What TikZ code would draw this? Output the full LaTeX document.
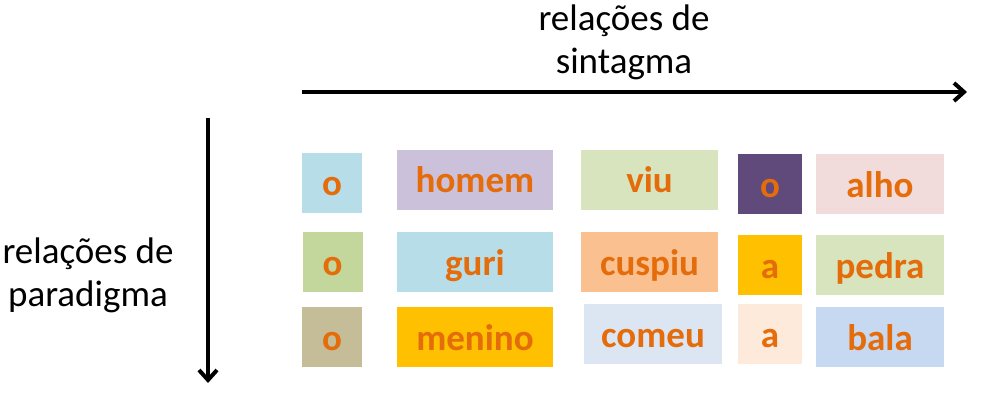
\documentclass[tikz,border=0pt]{standalone}
\usepackage{fontspec}
\setmainfont{Carlito}
\usetikzlibrary{arrows.meta}
\definecolor{wordtext}{HTML}{E46C0A}
\definecolor{aqua}{HTML}{B7DEE8}
\definecolor{lilac}{HTML}{CCC1DA}
\definecolor{olivelight}{HTML}{D7E4BD}
\definecolor{olivemid}{HTML}{C3D69B}
\definecolor{apricot}{HTML}{FAC090}
\definecolor{tan}{HTML}{C4BD97}
\definecolor{gold}{HTML}{FFC000}
\definecolor{iceblue}{HTML}{DCE6F2}
\definecolor{plum}{HTML}{604A7B}
\definecolor{rose}{HTML}{F2DCDB}
\definecolor{peach}{HTML}{FDEADA}
\definecolor{skyblue}{HTML}{C6D9F1}
\tikzset{Paradigm/.style = {% boxes and axes of the picture
     word/.style = {rectangle, inner sep=0pt, minimum height=60pt,
                    text height=26pt, text depth=0pt,
                    font=\fontsize{37}{44}\selectfont\bfseries, text=wordtext},
  article/.style = {word, minimum width=60pt},
    label/.style = {align=center, font=\fontsize{37}{43}\selectfont},
     axis/.style = {line width=4pt, -{Straight Barb[length=10pt,width=18pt,line width=4pt]}}}
        }

\begin{document}
\begin{tikzpicture}[Paradigm, x=1pt, y=-1pt]
\useasboundingbox (0,0) rectangle (989,401);

% nodes
\node (art1)   [article, fill=aqua]   at (332,183)   {o};
\node (homem)  [word, fill=lilac, minimum width=156pt]      at (475,180)   {homem};
\node (viu)    [word, fill=olivelight, minimum width=137pt] at (649.5,180) {viu};
\node (art2)   [article, fill=olivemid] at (332.5,262) {o};
\node (guri)   [word, fill=aqua, minimum width=156pt]       at (475,262)   {guri};
\node (cuspiu) [word, fill=apricot, minimum width=137pt]    at (649.5,262) {cuspiu};
\node (art3)   [article, fill=tan]    at (332,337)   {o};
\node (menino) [word, fill=gold, minimum width=156pt]       at (475,337)   {menino};
\node (comeu)  [word, fill=iceblue, minimum width=138pt]    at (653,334)   {comeu};
\node (art4)   [article, fill=plum, minimum width=64pt]     at (770,184)   {o};
\node (alho)   [word, fill=rose, minimum width=128pt]       at (880,184)   {alho};
\node (art5)   [article, fill=gold, minimum width=64pt]     at (770,265)   {a};
\node (pedra)  [word, fill=olivelight, minimum width=128pt] at (880,265)   {pedra};
\node (art6)   [article, fill=peach, minimum width=64pt]    at (770,334)   {a};
\node (bala)   [word, fill=skyblue, minimum width=128pt]    at (880,337)   {bala};

\node (sintagma)  [label] at (624,42)  {relações de\\sintagma};
\node (paradigma) [label] at (88,275)  {relações de\\paradigma};

% axes
\coordinate (hstart) at (302,92);
\coordinate (hend)   at (967,92);
\coordinate (vstart) at (208,118);
\coordinate (vend)   at (208,383);
\draw [axis] (hstart) -- (hend);
\draw [axis] (vstart) -- (vend);

\end{tikzpicture}
\end{document}
